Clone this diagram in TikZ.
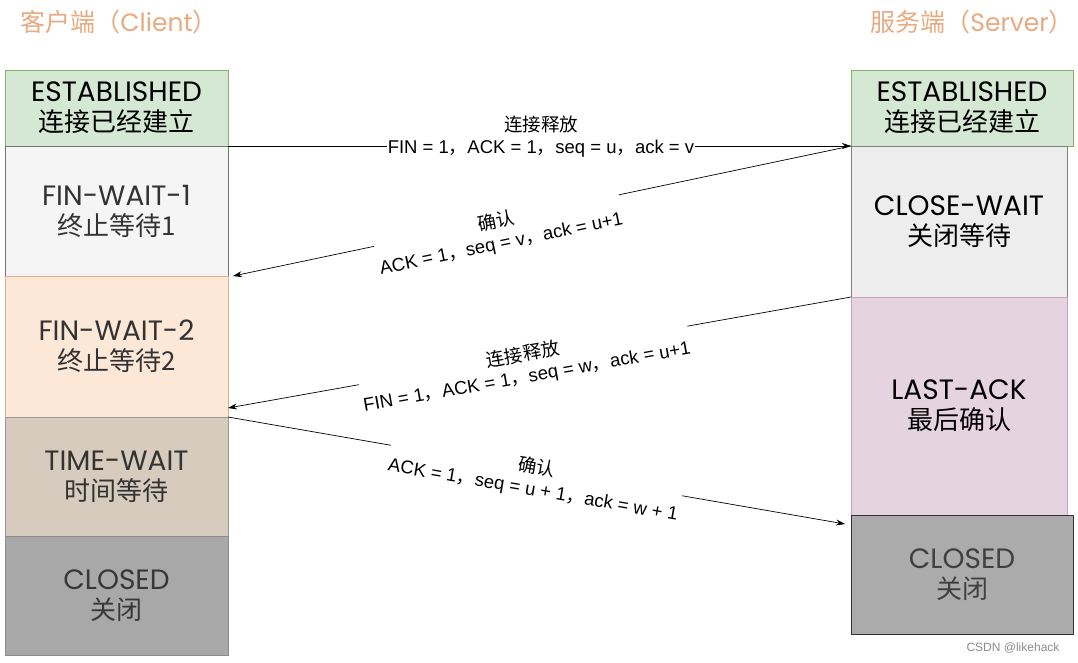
\documentclass[tikz,border=0pt]{standalone}
\usepackage{fontspec}
\usepackage{tikz}
\usetikzlibrary{arrows.meta,positioning}

\setmainfont{Liberation Sans}
\newfontfamily\cjk{Noto Sans CJK SC}
\newfontfamily\lat{Poppins}
\newcommand{\zc}{{\cjk ，}}

\definecolor{titlecol}{RGB}{232,170,128}
\definecolor{estfill}{HTML}{D5E8D4}
\definecolor{estdraw}{HTML}{82B366}
\definecolor{fwfill}{HTML}{FDE8D8}
\definecolor{fwdraw}{HTML}{E3AE8C}
\definecolor{twfill}{HTML}{D6CBBD}
\definecolor{lafill}{HTML}{E6D3E0}
\definecolor{ladraw}{HTML}{C9A3BD}

\tikzset{
    state/.style={draw, minimum width=223pt, inner sep=0pt, outer sep=0pt, align=center,
        font=\fontsize{26}{30}\selectfont, line width=0.8pt},
    msg/.style={-{Stealth[length=9pt,width=6pt]}, line width=0.7pt},
    lbl/.style={fill=white, inner sep=1pt, align=center, font=\fontsize{18.5}{22}\selectfont},
    side/.style={text=titlecol, font=\fontsize{25}{30}\selectfont}
}
\newcommand{\en}[1]{{\lat\fontsize{28}{30}\selectfont #1}}

\begin{document}
\begin{tikzpicture}[x=1pt, y=-1pt]

    \useasboundingbox[fill=white] (0,0) rectangle (1078,662);

    % Titles
    \node[side] (c-title) at (119,22) {\cjk 客户端（{\lat Client}）};
    \node[side] (s-title) at (972,22) {\cjk 服务端（{\lat Server}）};

    % Client states
    \node[state, fill=estfill, draw=estdraw, minimum height=76pt] (c-est) at (116.5,108)
        {\en{ESTABLISHED}\\{\cjk 连接已经建立}};
    \node[state, fill=black!4, draw=black!55, text=black!80, minimum height=130pt, below=0pt of c-est] (c-fw1)
        {\en{FIN-WAIT-1}\\{\cjk 终止等待1}};
    \node[state, fill=fwfill, draw=fwdraw, text=black!80, minimum height=141pt, below=0pt of c-fw1] (c-fw2)
        {\en{FIN-WAIT-2}\\{\cjk 终止等待2}};
    \node[state, fill=twfill, draw=black!40, text=black!80, minimum height=119pt, below=0pt of c-fw2] (c-tw)
        {\en{TIME-WAIT}\\{\cjk 时间等待}};
    \node[state, fill=black!34, draw=black!45, text=black!78, minimum height=119pt, below=0pt of c-tw] (c-cl)
        {\en{CLOSED}\\{\cjk 关闭}};

    % Server states
    \node[state, fill=estfill, draw=estdraw, minimum width=222pt, minimum height=76pt] (s-est) at (962,108)
        {\en{ESTABLISHED}\\{\cjk 连接已经建立}};
    \node[state, fill=black!7, draw=black!50, minimum width=216pt, minimum height=151pt,
        below=0pt of s-est.south west, anchor=north west] (s-cw)
        {\en{CLOSE-WAIT}\\{\cjk 关闭等待}};
    \node[state, fill=lafill, draw=ladraw, minimum width=216pt, minimum height=218pt,
        below=0pt of s-cw.south west, anchor=north west] (s-la)
        {\en{LAST-ACK}\\{\cjk 最后确认}};
    \node[state, fill=black!33, draw=black!80, text=black!75, minimum width=222pt, minimum height=119pt,
        below=0pt of s-la.south west, anchor=north west] (s-cl)
        {\en{CLOSED}\\{\cjk 关闭}};

    % Messages
    \draw[msg] (c-est.south east) -- (s-est.south west);
    \draw[msg] (s-est.south west) -- ([xshift=5pt]c-fw1.south east);
    \draw[msg] (s-cw.south west) -- ([yshift=9pt]c-fw2.south east);
    \draw[msg] (c-tw.north east) -- ([xshift=-6pt, yshift=-9pt]s-cl.north west);

    % Message labels
    \node[lbl] (m1) at (541,137) {{\cjk 连接释放}\\FIN = 1\zc ACK = 1\zc seq = u\zc ack = v};
    \node[lbl, rotate=11.7] (m2) at (499,233) {{\cjk 确认}\\ACK = 1\zc seq = v\zc ack = u+1};
    \node[lbl, rotate=10.1] (m3) at (525,366) {{\cjk 连接释放}\\FIN = 1\zc ACK = 1\zc seq = w\zc ack = u+1};
    \node[lbl, rotate=-9.8] (m4) at (535,479) {{\cjk 确认}\\ACK = 1\zc seq = u + 1\zc ack = w + 1};

    \node[text=black!45, font=\fontsize{12}{14}\selectfont] (mark) at (1013,648) {CSDN @likehack};
\end{tikzpicture}
\end{document}
